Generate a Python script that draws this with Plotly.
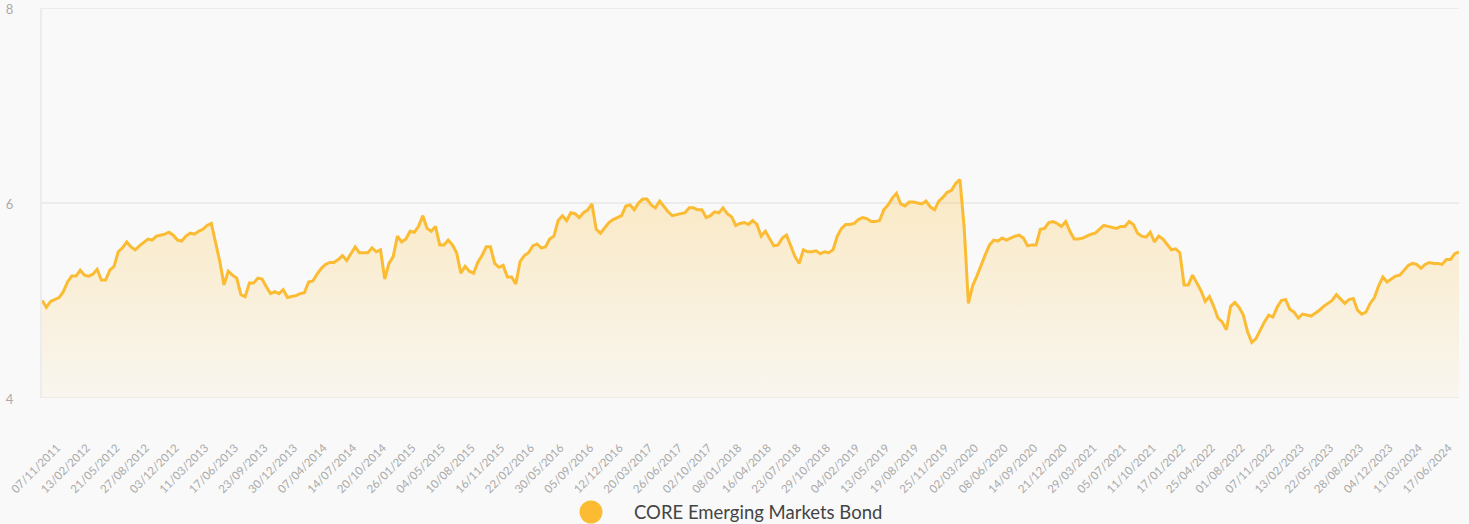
import plotly.graph_objects as go
import pandas as pd

series_name = "CORE Emerging Markets Bond"
start_date = "2011-11-07"

# fortnightly readings (every 14 days from start_date)
values = [
    5.00, 4.93, 4.99, 5.01, 5.03, 5.09, 5.19, 5.25, 5.25, 5.31,
    5.26, 5.25, 5.27, 5.32, 5.21, 5.21, 5.31, 5.35, 5.50, 5.54,
    5.60, 5.55, 5.52, 5.56, 5.60, 5.63, 5.62, 5.66, 5.67, 5.68,
    5.70, 5.67, 5.62, 5.61, 5.66, 5.69, 5.68, 5.71, 5.73, 5.77,
    5.79, 5.59, 5.40, 5.16, 5.30, 5.26, 5.23, 5.06, 5.04, 5.18,
    5.18, 5.23, 5.22, 5.14, 5.07, 5.09, 5.07, 5.11, 5.03, 5.04,
    5.05, 5.07, 5.08, 5.19, 5.20, 5.27, 5.33, 5.37, 5.39, 5.39,
    5.42, 5.46, 5.41, 5.48, 5.55, 5.49, 5.49, 5.49, 5.54, 5.50,
    5.52, 5.22, 5.38, 5.45, 5.66, 5.60, 5.63, 5.71, 5.70, 5.76,
    5.87, 5.74, 5.71, 5.76, 5.57, 5.57, 5.62, 5.57, 5.49, 5.28,
    5.35, 5.30, 5.28, 5.39, 5.46, 5.55, 5.55, 5.38, 5.34, 5.36,
    5.24, 5.24, 5.17, 5.40, 5.46, 5.49, 5.56, 5.58, 5.54, 5.55,
    5.63, 5.66, 5.82, 5.87, 5.82, 5.90, 5.89, 5.85, 5.90, 5.93,
    5.99, 5.73, 5.69, 5.74, 5.80, 5.83, 5.85, 5.87, 5.97, 5.98,
    5.93, 6.00, 6.04, 6.04, 5.98, 5.95, 6.02, 5.96, 5.91, 5.87,
    5.88, 5.89, 5.90, 5.95, 5.95, 5.93, 5.93, 5.85, 5.87, 5.91,
    5.90, 5.95, 5.89, 5.86, 5.77, 5.79, 5.80, 5.78, 5.82, 5.78,
    5.66, 5.71, 5.63, 5.56, 5.57, 5.64, 5.67, 5.55, 5.45, 5.38,
    5.52, 5.50, 5.50, 5.51, 5.48, 5.50, 5.49, 5.52, 5.66, 5.74,
    5.78, 5.78, 5.79, 5.83, 5.85, 5.84, 5.81, 5.81, 5.82, 5.93,
    5.98, 6.05, 6.10, 5.99, 5.97, 6.01, 6.01, 6.00, 5.99, 6.02,
    5.96, 5.93, 6.02, 6.06, 6.11, 6.13, 6.20, 6.24, 5.75, 4.97,
    5.15, 5.25, 5.37, 5.47, 5.57, 5.62, 5.61, 5.64, 5.62, 5.64,
    5.66, 5.67, 5.64, 5.56, 5.57, 5.57, 5.73, 5.74, 5.80, 5.81,
    5.79, 5.76, 5.81, 5.71, 5.63, 5.63, 5.64, 5.66, 5.68, 5.69,
    5.73, 5.77, 5.76, 5.75, 5.74, 5.76, 5.76, 5.81, 5.78, 5.69,
    5.66, 5.65, 5.70, 5.60, 5.66, 5.63, 5.58, 5.52, 5.53, 5.49,
    5.16, 5.16, 5.26, 5.18, 5.10, 4.99, 5.04, 4.94, 4.82, 4.78,
    4.70, 4.94, 4.98, 4.93, 4.85, 4.68, 4.57, 4.61, 4.70, 4.78,
    4.85, 4.83, 4.93, 5.00, 5.01, 4.91, 4.88, 4.82, 4.86, 4.85,
    4.84, 4.87, 4.90, 4.94, 4.97, 5.00, 5.06, 5.02, 4.97, 5.01,
    5.02, 4.90, 4.86, 4.88, 4.97, 5.03, 5.15, 5.24, 5.19, 5.22,
    5.25, 5.26, 5.31, 5.36, 5.38, 5.37, 5.33, 5.37, 5.39, 5.38,
    5.38, 5.37, 5.42, 5.42, 5.48, 5.50,
]

tick_labels = [
    "07/11/2011", "13/02/2012", "21/05/2012", "27/08/2012", "03/12/2012",
    "11/03/2013", "17/06/2013", "23/09/2013", "30/12/2013", "07/04/2014",
    "14/07/2014", "20/10/2014", "26/01/2015", "04/05/2015", "10/08/2015",
    "16/11/2015", "22/02/2016", "30/05/2016", "05/09/2016", "12/12/2016",
    "20/03/2017", "26/06/2017", "02/10/2017", "08/01/2018", "16/04/2018",
    "23/07/2018", "29/10/2018", "04/02/2019", "13/05/2019", "19/08/2019",
    "25/11/2019", "02/03/2020", "08/06/2020", "14/09/2020", "21/12/2020",
    "29/03/2021", "05/07/2021", "11/10/2021", "17/01/2022", "25/04/2022",
    "01/08/2022", "07/11/2022", "13/02/2023", "22/05/2023", "28/08/2023",
    "04/12/2023", "11/03/2024", "17/06/2024",
]
y_ticks = [4, 6, 8]

dates = pd.date_range(start_date, periods=len(values), freq="14D")
tick_vals = pd.to_datetime(tick_labels, format="%d/%m/%Y")

LINE = "#FBBC33"
GRID = "#ececec"
FONT = "Lato, 'Open Sans', sans-serif"

fig = go.Figure()
fig.add_trace(go.Scatter(
    x=dates, y=values, name=series_name, mode="lines",
    line=dict(color=LINE, width=3),
    fill="tozeroy",
    fillgradient=dict(
        type="vertical",
        colorscale=[[0, "rgba(251,188,51,0.05)"], [1, "rgba(251,188,51,0.28)"]],
        start=4, stop=6.3,
    ),
    showlegend=False,
    hoverinfo="x+y",
))

# legend (circle marker + label)
W, H = 1469, 524
L, R, T, B = 42, 10, 8, 126
pw, ph = W - L - R, H - T - B
def px(x):
    return (x - L) / pw
def py(y):
    return (H - B - y) / ph

# gridlines on the range edges (plotly skips them)
for yv in (y_ticks[0], y_ticks[-1]):
    fig.add_shape(type="line", xref="paper", yref="y", x0=0, x1=1, y0=yv, y1=yv,
                  line=dict(color=GRID, width=2), layer="below")

fig.add_shape(type="circle", xref="paper", yref="paper",
              x0=px(579.5), x1=px(602.5), y0=py(523.5), y1=py(500.5),
              fillcolor=LINE, line=dict(width=0))
fig.add_annotation(xref="paper", yref="paper", x=px(632), y=py(512),
                   xanchor="left", yanchor="middle", showarrow=False,
                   text=series_name,
                   font=dict(family=FONT, size=18.5, color="#444444"))

fig.update_layout(
    width=W, height=H,
    margin=dict(l=L, r=R, t=T, b=B, autoexpand=False),
    paper_bgcolor="#f9f9f9", plot_bgcolor="#f9f9f9",
    font=dict(family=FONT, color="#aaaaaa"),
    showlegend=False,
)
fig.update_xaxes(
    type="date",
    range=[dates[0] - pd.Timedelta(hours=12), dates[-1]],
    tickmode="array", tickvals=tick_vals, ticktext=tick_labels,
    tickangle=-45, tickfont=dict(size=11.5, color="#aaaaaa"),
    showgrid=False, zeroline=False, showline=False, ticks="",
    ticklabelstandoff=40, ticklabelshift=15,
    automargin=False, ticklabeloverflow="allow",
)
fig.update_yaxes(
    range=[3.9995, 8.0005], tickvals=y_ticks,
    tickfont=dict(size=13, color="#aaaaaa"),
    showgrid=True, gridcolor=GRID, gridwidth=2,
    zeroline=False, showline=True, linecolor=GRID, linewidth=2,
    ticks="", ticklabelstandoff=24, ticklabelshift=1, automargin=False,
    ticklabeloverflow="allow",
)

fig.write_html(
    "out.html",
    config={"displayModeBar": False},
    post_script="document.body.style.margin='0';document.body.style.overflow='hidden';",
)
